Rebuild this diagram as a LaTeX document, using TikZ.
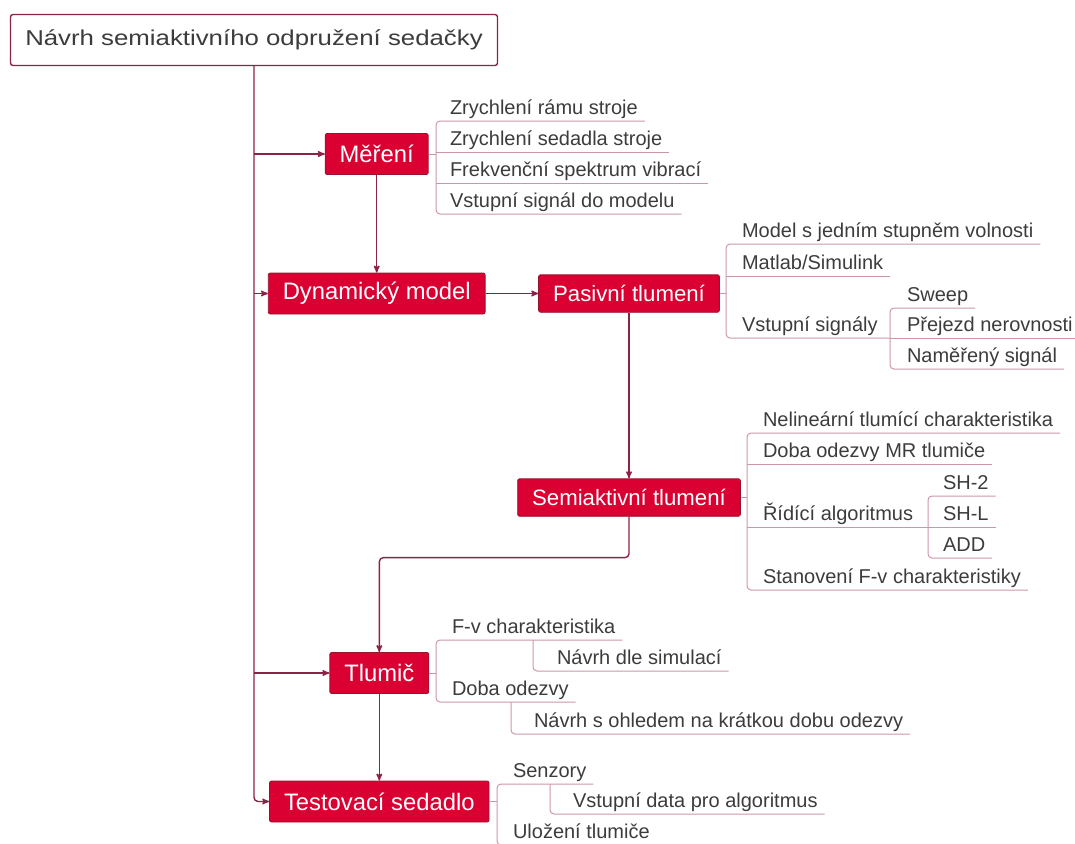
\documentclass[tikz,border=0pt]{standalone}
\usepackage{fontspec}
\setmainfont{Liberation Sans}
\newfontfamily\titlefont{Liberation Sans}[FakeStretch=1.2]
\usetikzlibrary{arrows}

\definecolor{boxred}{RGB}{218,0,50}
\definecolor{boxedge}{RGB}{150,20,45}
\definecolor{trunkcol}{RGB}{140,35,70}
\definecolor{leafcol}{RGB}{205,150,168}
\definecolor{txtgray}{RGB}{60,60,60}

\begin{document}
\begin{tikzpicture}[x=1pt,y=-1pt,>=stealth',
	root node/.style={draw=trunkcol,line width=1.4pt,fill=white,rounded corners=2.5pt,minimum width=487pt,minimum height=51pt,text=txtgray,font=\titlefont\fontsize{21.5}{24}\selectfont},
	main node/.style={draw=boxedge,line width=0.8pt,fill=boxred,rounded corners=2pt,text=white,inner xsep=14.5pt,minimum height=41pt,font=\fontsize{23.8}{26}\selectfont},
	sub node/.style={main node,minimum height=37.5pt,font=\fontsize{22.2}{24}\selectfont},
	item/.style={anchor=south west,inner sep=0pt,outer sep=0pt,text depth=7pt,text=txtgray,font=\fontsize{20}{22}\selectfont},
	trunk/.style={draw=trunkcol,line width=1.4pt},
	leaf/.style={draw=leafcol,line width=1pt}]
	\useasboundingbox (0,0) rectangle (1075,843);

	\node[root node] (root) at (254,40) {Návrh semiaktivního odpružení sedačky};
	\node[main node] (mer) at (376.7,154) {Měření};
	\node[main node] (dyn) at (376.7,293.5) {Dynamický model};
	\node[sub node] (pas) at (629,293.5) {Pasivní tlumení};
	\node[sub node] (semi) at (629,497.5) {Semiaktivní tlumení};
	\node[main node] (tlu) at (379.3,673) {Tlumič};
	\node[main node] (test) at (379.3,801.5) {Testovací sedadlo};

	% hlavni vetve
	\draw[trunk,->,rounded corners=4pt] (root.south) |- (test.west);
	\draw[trunk,->] (root.south |- mer.west) -- (mer.west);
	\draw[trunk,->] (root.south |- dyn.west) -- (dyn.west);
	\draw[trunk,->] (root.south |- tlu.west) -- (tlu.west);
	\draw[trunk,->] (mer.south) -- (dyn.north);
	\draw[trunk,->] (dyn.east) -- (pas.west);
	\draw[trunk,->] (pas.south) -- (semi.north);
	\draw[trunk,->,rounded corners=4pt] (semi.south) -- ++(0,41) -| (tlu.north);
	\draw[trunk,->] (tlu.south) -- (test.north);

	% Mereni
	\coordinate (mb) at (436,154);
	\node[item] (m1) at (450,121) {Zrychlení rámu stroje};
	\node[item] (m2) at (450,152) {Zrychlení sedadla stroje};
	\node[item] (m3) at (450,183) {Frekvenční spektrum vibrací};
	\node[item] (m4) at (450,214) {Vstupní signál do modelu};
	\draw[leaf] (mer.east) -- (mb);
	\draw[leaf,rounded corners=4pt] ([xshift=7pt]m1.south east) -- (mb |- m1.south) -- (mb |- m4.south) -- ([xshift=7pt]m4.south east);
	\draw[leaf] (mb |- m2.south) -- ([xshift=7pt]m2.south east);
	\draw[leaf] (mb |- m3.south) -- ([xshift=7pt]m3.south east);

	% Pasivni tlumeni
	\coordinate (pb) at (726,293.5);
	\coordinate (psb) at (890,338);
	\node[item] (p1) at (742,244) {Model s jedním stupněm volnosti};
	\node[item] (p2) at (742,276) {Matlab/Simulink};
	\node[item] (p3) at (742,338) {Vstupní signály};
	\node[item] (p31) at (907,308) {Sweep};
	\node[item] (p32) at (907,338) {Přejezd nerovnosti};
	\node[item] (p33) at (907,369) {Naměřený signál};
	\draw[leaf] (pas.east) -- (pb);
	\draw[leaf,rounded corners=4pt] ([xshift=7pt]p1.south east) -- (pb |- p1.south) -- (pb |- p3.south) -- (psb);
	\draw[leaf] (pb |- p2.south) -- ([xshift=7pt]p2.south east);
	\draw[leaf,rounded corners=4pt] ([xshift=7pt]p31.south east) -- (psb |- p31.south) -- (psb |- p33.south) -- ([xshift=7pt]p33.south east);
	\draw[leaf] (psb) -- ([xshift=7pt]p32.south east);

	% Semiaktivni tlumeni
	\coordinate (sb) at (747,497.5);
	\coordinate (ssb) at (928,527);
	\node[item] (s1) at (763,433) {Nelineární tlumící charakteristika};
	\node[item] (s2) at (763,464) {Doba odezvy MR tlumiče};
	\node[item] (s3) at (763,527) {Řídící algoritmus};
	\node[item] (s4) at (763,590) {Stanovení F-v charakteristiky};
	\node[item] (s31) at (943,496) {SH-2};
	\node[item] (s32) at (943,527) {SH-L};
	\node[item] (s33) at (943,558) {ADD};
	\draw[leaf] (semi.east) -- (sb);
	\draw[leaf,rounded corners=4pt] ([xshift=7pt]s1.south east) -- (sb |- s1.south) -- (sb |- s4.south) -- ([xshift=7pt]s4.south east);
	\draw[leaf] (sb |- s2.south) -- ([xshift=7pt]s2.south east);
	\draw[leaf] (sb |- s3.south) -- (ssb);
	\draw[leaf,rounded corners=4pt] ([xshift=7pt]s31.south east) -- (ssb |- s31.south) -- (ssb |- s33.south) -- ([xshift=7pt]s33.south east);
	\draw[leaf] (ssb) -- ([xshift=7pt]s32.south east);

	% Tlumic
	\coordinate (tb) at (436,673);
	\coordinate (t1b) at (533,640);
	\coordinate (t2b) at (511,702);
	\node[item] (t1) at (452,640) {F-v charakteristika};
	\node[item] (t11) at (557,671) {Návrh dle simulací};
	\node[item] (t2) at (452,702) {Doba odezvy};
	\node[item] (t21) at (534,734) {Návrh s ohledem na krátkou dobu odezvy};
	\draw[leaf] (tlu.east) -- (tb);
	\draw[leaf,rounded corners=4pt] ([xshift=7pt]t1.south east) -- (tb |- t1.south) -- (tb |- t2.south) -- ([xshift=7pt]t2.south east);
	\draw[leaf,rounded corners=4pt] (t1b) |- ([xshift=7pt]t11.south east);
	\draw[leaf,rounded corners=4pt] (t2b) |- ([xshift=7pt]t21.south east);

	% Testovaci sedadlo
	\coordinate (eb) at (497,801.5);
	\coordinate (e1b) at (550,784);
	\node[item] (e1) at (513,784) {Senzory};
	\node[item] (e11) at (573,814) {Vstupní data pro algoritmus};
	\node[item] (e2) at (513,845) {Uložení tlumiče};
	\draw[leaf] (test.east) -- (eb);
	\draw[leaf,rounded corners=4pt] ([xshift=7pt]e1.south east) -- (eb |- e1.south) -- (eb |- e2.south) -- ([xshift=7pt]e2.south east);
	\draw[leaf,rounded corners=4pt] (e1b) |- ([xshift=7pt]e11.south east);
\end{tikzpicture}
\end{document}
